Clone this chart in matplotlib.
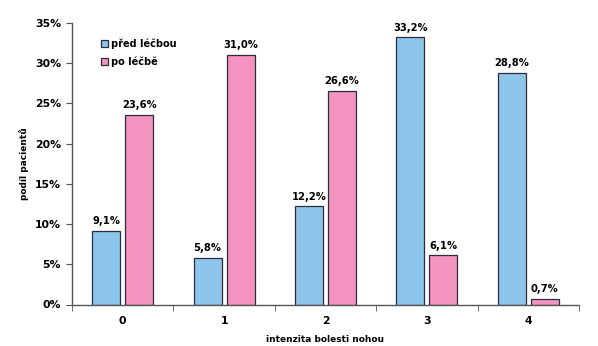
import matplotlib
matplotlib.use("Agg")
from matplotlib import pyplot as plt
from matplotlib.ticker import FixedLocator, PercentFormatter
import numpy as np

# %% Data
categories = ["0", "1", "2", "3", "4"]
pred_lecbou = [9.1, 5.8, 12.2, 33.2, 28.8]
po_lecbe = [23.6, 31.0, 26.6, 6.1, 0.7]
series_names = ["před léčbou", "po léčbě"]

# %% Plot
plt.rcParams["font.family"] = "DejaVu Sans"
plt.rcParams["font.weight"] = "bold"

fig = plt.figure(figsize=(5.98, 3.46), dpi=100)
ax = fig.add_axes([72 / 598, 1 - 304.5 / 346, (579 - 72) / 598, (304.5 - 23) / 346])

x = np.arange(len(categories))
w = 0.276
blue = "#8EC5EA"
pink = "#F294BF"
edge = "#2b2b3a"

b1 = ax.bar(x - 0.163, pred_lecbou, w, color=blue, edgecolor=edge, linewidth=0.9,
            label=series_names[0])
b2 = ax.bar(x + 0.163, po_lecbe, w, color=pink, edgecolor=edge, linewidth=0.9,
            label=series_names[1])

for bars, vals in ((b1, pred_lecbou), (b2, po_lecbe)):
    for r, v in zip(bars, vals):
        ax.text(r.get_x() + r.get_width() / 2, v + 0.6, f"{v:.1f}%".replace(".", ","),
                ha="center", va="bottom", fontsize=7.2, fontweight="bold")

ax.set_xlim(-0.5, len(categories) - 0.5)
ax.set_ylim(0, 35)
ax.yaxis.set_major_locator(FixedLocator(np.arange(0, 36, 5)))
ax.yaxis.set_major_formatter(PercentFormatter(decimals=0))
ax.set_xticks(x)
ax.set_xticklabels(categories)
ax.xaxis.set_minor_locator(FixedLocator(np.arange(-0.5, len(categories), 1)))
ax.tick_params(axis="x", which="major", length=0, pad=8, labelsize=7.8)
ax.tick_params(axis="x", which="minor", length=4, direction="out", color="#555555")
ax.tick_params(axis="y", length=4, direction="out", color="#555555", labelsize=7.8, pad=4)

for s in ("top", "right"):
    ax.spines[s].set_visible(False)
for s in ("left", "bottom"):
    ax.spines[s].set_color("#555555")
    ax.spines[s].set_linewidth(1.0)

ax.set_ylabel("podíl pacientů", fontsize=6.5, fontweight="bold", labelpad=4)
ax.set_xlabel("intenzita bolesti nohou", fontsize=6.5, fontweight="bold", labelpad=7)

leg = ax.legend(loc="upper left", bbox_to_anchor=(0.04, 0.975), frameon=False,
                fontsize=7, handlelength=0.7, handleheight=0.7, handletextpad=0.35,
                labelspacing=0.75)

fig.savefig("out.png", dpi=100)
